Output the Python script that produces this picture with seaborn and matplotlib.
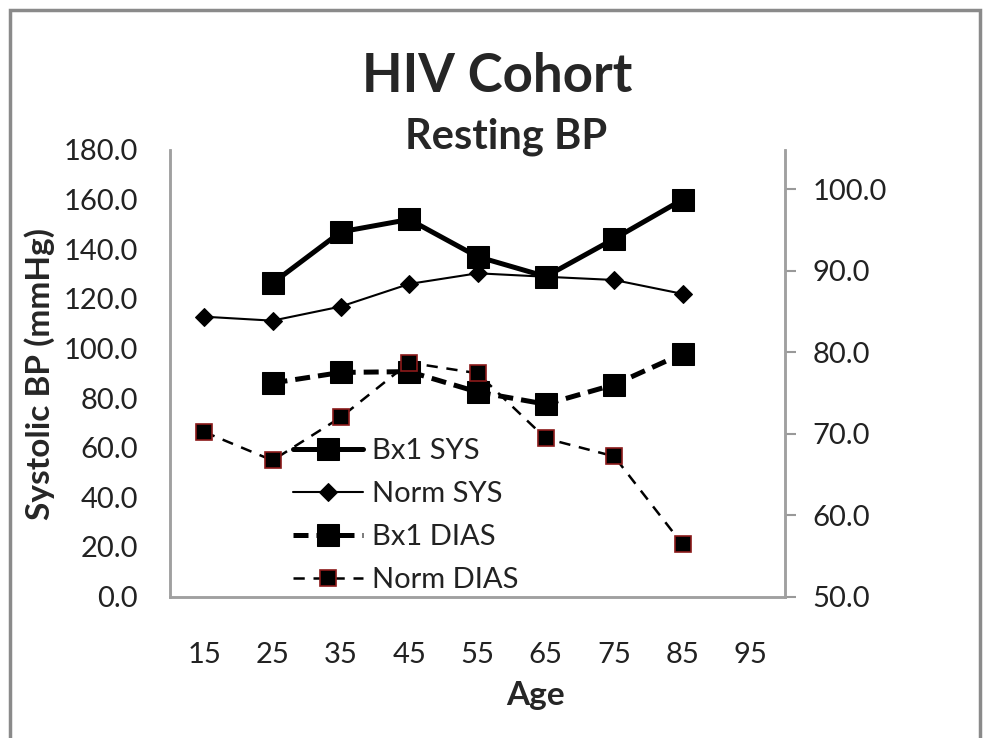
import matplotlib
matplotlib.use("Agg")
import matplotlib.pyplot as plt
import matplotlib.patches as mpatches
import seaborn as sns

## data
age_ticks = [15, 25, 35, 45, 55, 65, 75, 85, 95]

bx1_ages = [25, 35, 45, 55, 65, 75, 85]
bx1_sys = [126.3, 147.0, 152.0, 137.0, 129.0, 144.2, 160.0]
bx1_dias = [76.2, 77.5, 77.6, 75.1, 73.6, 76.0, 79.8]

norm_ages = [15, 25, 35, 45, 55, 65, 75, 85]
norm_sys = [112.8, 111.2, 116.9, 126.0, 130.3, 128.9, 127.6, 122.0]
norm_dias = [70.2, 66.7, 72.0, 78.7, 77.4, 69.4, 67.2, 56.4]

sns.set_style("white")
plt.rcParams["font.family"] = ["Lato", "DejaVu Sans"]

W, H = 990, 738
fig = plt.figure(figsize=(W / 100, H / 100), dpi=100)
ax = fig.add_axes([170 / W, 1 - 596.5 / H, 615 / W, 446.5 / H])
ax2 = ax.twinx()

# systolic on the left axis
sns.lineplot(x=bx1_ages, y=bx1_sys, ax=ax, color="black", linewidth=3.6,
             marker="s", markersize=16, markeredgecolor="black",
             label="Bx1 SYS", legend=False)
sns.lineplot(x=norm_ages, y=norm_sys, ax=ax, color="black", linewidth=1.5,
             marker="D", markersize=9, markeredgecolor="black",
             label="Norm SYS", legend=False)

# diastolic on the right axis
sns.lineplot(x=bx1_ages, y=bx1_dias, ax=ax2, color="black", linewidth=3.6,
             marker="s", markersize=16, markeredgecolor="black",
             label="Bx1 DIAS", legend=False)
sns.lineplot(x=norm_ages, y=norm_dias, ax=ax2, color="black", linewidth=1.8,
             marker="s", markersize=11, markeredgecolor="#8b1a1a",
             markeredgewidth=1.2, label="Norm DIAS", legend=False)
ax2.lines[0].set_dashes((3, 1.6))
ax2.lines[1].set_dashes((4.5, 3.5))

ax.set_xlim(10, 100)
ax.set_ylim(0, 180)
ax2.set_ylim(50, 104.8)
ax.set_xticks(age_ticks)
ax.set_yticks(range(0, 181, 20))
ax2.set_yticks(range(50, 101, 10))
ax.set_yticklabels([f"{v:.1f}" for v in range(0, 181, 20)])
ax2.set_yticklabels([f"{v:.1f}" for v in range(50, 101, 10)])

ax.tick_params(axis="y", length=0, pad=23, labelsize=21, labelcolor="#222222")
ax.tick_params(axis="x", length=0, pad=33, labelsize=21, labelcolor="#222222")
ax2.tick_params(axis="y", length=8, width=1.5, color="#999999", pad=12,
                labelsize=21, labelcolor="#222222")
ax.set_xlabel("")
ax.set_ylabel("")
ax2.set_ylabel("")

for a in (ax, ax2):
    a.spines["top"].set_visible(False)
    for s in ("left", "right", "bottom"):
        a.spines[s].set_color("#a0a0a0")
        a.spines[s].set_linewidth(1.8)

# titles and axis titles
fig.text(497 / W, 1 - 77 / H, "HIV Cohort", ha="center", va="center",
         fontsize=38, fontweight="bold")
fig.text(506 / W, 1 - 137 / H, "Resting BP", ha="center", va="center",
         fontsize=30, fontweight="bold")
fig.text(536 / W, 1 - 695 / H, "Age", ha="center", va="center",
         fontsize=24, fontweight="bold")
fig.text(40 / W, 1 - 374 / H, "Systolic BP (mmHg)", ha="center", va="center",
         rotation=90, fontsize=24, fontweight="bold")

handles = ax.get_lines() + ax2.get_lines()
labels = ["Bx1 SYS", "Norm SYS", "Bx1 DIAS", "Norm DIAS"]
leg = ax2.legend(handles, labels, loc="upper left",
                 bbox_to_anchor=(293 / W, 1 - 438 / H),
                 bbox_transform=fig.transFigure, frameon=False,
                 fontsize=21, handlelength=2.4, handletextpad=0.3,
                 labelspacing=0.58, borderpad=0, borderaxespad=0, numpoints=1)
for t in leg.get_texts():
    t.set_color("#222222")

# outer chart frame
frame = mpatches.Rectangle((10 / W, -0.05), 970 / W, 1.05 - 10 / H,
                           transform=fig.transFigure, fill=False,
                           edgecolor="#8a8a8a", linewidth=2.5)
fig.patches.append(frame)

fig.savefig("out.png", dpi=100)
